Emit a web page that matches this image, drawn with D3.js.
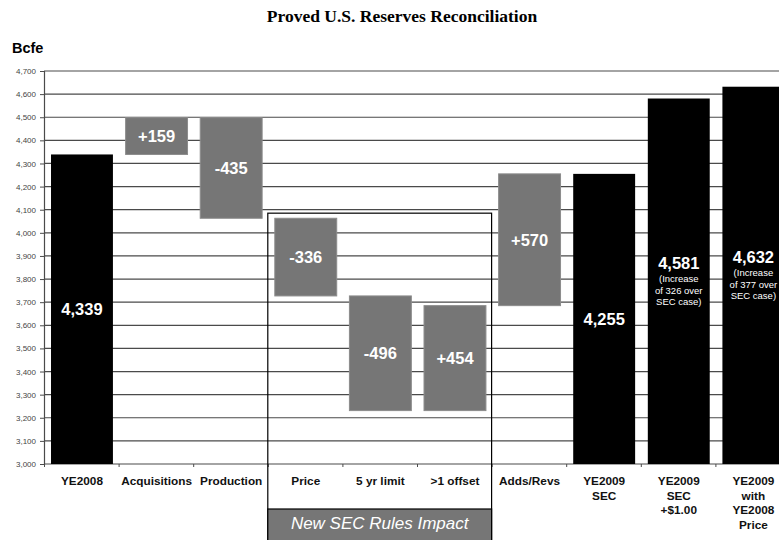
<!DOCTYPE html>
<html>
<head>
<meta charset="utf-8">
<script src="https://cdn.jsdelivr.net/npm/d3@7"></script>
<style>
  body { margin: 0; background: #fff; }
  svg { display: block; font-family: "Liberation Sans", Arial, sans-serif; }
</style>
</head>
<body>
<div id="canvas"></div>
<script>
// chart data
const categories = ["YE2008", "Acquisitions", "Production", "Price", "5 yr limit",
  ">1 offset", "Adds/Revs", "YE2009 SEC", "YE2009 SEC +$1.00", "YE2009 with YE2008 Price"];
const categoryLines = [["YE2008"], ["Acquisitions"], ["Production"], ["Price"], ["5 yr limit"],
  [">1 offset"], ["Adds/Revs"], ["YE2009", "SEC"], ["YE2009", "SEC", "+$1.00"], ["YE2009", "with", "YE2008", "Price"]];
const barKinds = ["total", "delta", "delta", "delta", "delta", "delta", "delta", "total", "total", "total"];
const barValues = [4339, 159, -435, -336, -496, 454, 570, 4255, 4581, 4632];
const barNotes = [null, null, null, null, null, null, null, null,
  ["(Increase", "of 326 over", "SEC case)"], ["(Increase", "of 377 over", "SEC case)"]];
const yTicks = [3000, 3100, 3200, 3300, 3400, 3500, 3600, 3700, 3800, 3900,
  4000, 4100, 4200, 4300, 4400, 4500, 4600, 4700];
const secGroup = ["Price", "5 yr limit", ">1 offset"];
const secGroupTop = 4085;

const W = 779, H = 540;
const plotLeft = 44, plotTop = 71, plotBottom = 464;

// waterfall start/end from running total
let running = 0;
const bars = categories.map((c, i) => {
  let start, end;
  if (barKinds[i] == "total") {
    start = yTicks[0];
    end = barValues[i];
    running = barValues[i];
  } else {
    start = running;
    end = running + barValues[i];
    running = end;
  }
  return { cat: c, kind: barKinds[i], value: barValues[i], start, end, note: barNotes[i], lines: categoryLines[i] };
});

const svg = d3.select("#canvas").append("svg").attr("width", W).attr("height", H);

const step = 74.6;
const x = d3.scaleBand().domain(categories)
  .range([plotLeft, plotLeft + step * (categories.length - 0.17 + 2 * 0.094)])
  .paddingInner(0.17).paddingOuter(0.094);
const y = d3.scaleLinear().domain([3000, 4700]).range([plotBottom, plotTop]);
// band boundaries
const bx = d3.scaleLinear().domain([0, categories.length]).range([plotLeft, plotLeft + x.step() * categories.length]);

// title
svg.append("text")
  .attr("x", 402).attr("y", 22)
  .attr("text-anchor", "middle")
  .style("font-family", "'Liberation Serif', 'Times New Roman', serif")
  .style("font-weight", "bold").style("font-size", "17.5px")
  .text("Proved U.S. Reserves Reconciliation");

svg.append("text")
  .attr("x", 12).attr("y", 53)
  .style("font-weight", "bold").style("font-size", "14.5px")
  .text("Bcfe");

// grid
svg.append("g")
  .selectAll("line")
  .data(yTicks.slice(1))
  .join("line")
  .attr("x1", plotLeft).attr("x2", W)
  .attr("y1", (d) => y(d)).attr("y2", (d) => y(d))
  .attr("stroke", "#4a4a4a").attr("stroke-width", 1.2);

// y axis
const yAxis = svg.append("g")
  .attr("transform", "translate(" + plotLeft + ",0)")
  .call(d3.axisLeft(y).tickValues(yTicks).tickSize(4).tickPadding(4).tickFormat(d3.format(",")));
yAxis.select(".domain").attr("stroke", "#4a4a4a").attr("stroke-width", 1.2);
yAxis.selectAll(".tick line").attr("stroke", "#4a4a4a");
yAxis.selectAll("text").style("font-size", "8px").attr("fill", "#444").style("font-family", "'Liberation Sans Narrow', 'Liberation Sans', Arial, sans-serif");

// x axis line and boundary ticks
const xAxis = svg.append("g")
  .attr("transform", "translate(0," + plotBottom + ")")
  .call(d3.axisBottom(bx).tickValues(d3.range(0, categories.length + 1)).tickSize(3).tickFormat(""));
xAxis.select(".domain").attr("stroke", "#4a4a4a").attr("stroke-width", 1.2).attr("d", "M" + plotLeft + ",0H" + W);
xAxis.selectAll(".tick line").attr("stroke", "#4a4a4a");

// category labels
svg.append("g")
  .selectAll("text")
  .data(bars)
  .join("text")
  .attr("x", (d) => x(d.cat) + x.bandwidth() / 2)
  .attr("y", 485)
  .attr("text-anchor", "middle")
  .style("font-weight", "bold").style("font-size", "11.8px")
  .attr("fill", "#111")
  .selectAll("tspan")
  .data((d) => d.lines.map((l) => ({ l, cx: x(d.cat) + x.bandwidth() / 2 })))
  .join("tspan")
  .attr("x", (d) => d.cx)
  .attr("dy", (d, i) => (i == 0 ? 0 : 14.7))
  .text((d) => d.l);

// bars
svg.append("g")
  .selectAll("rect")
  .data(bars)
  .join("rect")
  .attr("x", (d) => x(d.cat))
  .attr("width", x.bandwidth())
  .attr("y", (d) => y(Math.max(d.start, d.end)))
  .attr("height", (d) => Math.abs(y(d.start) - y(d.end)))
  .attr("fill", (d) => (d.kind == "total" ? "#000" : "#767676"))
  .attr("stroke", (d) => (d.kind == "total" ? "none" : "#8c8c8c"))
  .attr("stroke-width", 1);

// bar labels
const fmt = d3.format(",");
const labels = svg.append("g").selectAll("g").data(bars).join("g")
  .attr("transform", (d) => "translate(" + (x(d.cat) + x.bandwidth() / 2) + "," + (y(d.start) + y(d.end)) / 2 + ")");

labels.append("text")
  .attr("text-anchor", "middle")
  .attr("y", (d) => (d.note ? -12 : 6))
  .attr("fill", "#fff")
  .style("font-weight", "bold").style("font-size", "16.5px")
  .text((d) => (d.kind == "total" ? fmt(d.value) : (d.value > 0 ? "+" : "") + d.value));

labels.filter((d) => d.note)
  .append("text")
  .attr("text-anchor", "middle")
  .attr("fill", "#fff")
  .style("font-size", "9.5px")
  .style("font-family", "'Liberation Sans Narrow', 'Liberation Sans', Arial, sans-serif")
  .selectAll("tspan")
  .data((d) => d.note)
  .join("tspan")
  .attr("x", 0)
  .attr("y", (d, i) => 1 + i * 11.5)
  .text((d) => d);

// New SEC rules box
const gx0 = bx(categories.indexOf(secGroup[0]));
const gx1 = bx(categories.indexOf(secGroup[secGroup.length - 1]) + 1);
svg.append("rect")
  .attr("x", gx0).attr("y", y(secGroupTop))
  .attr("width", gx1 - gx0).attr("height", H + 5 - y(secGroupTop))
  .attr("fill", "none").attr("stroke", "#000").attr("stroke-width", 1.2);
svg.append("rect")
  .attr("x", gx0).attr("y", 509)
  .attr("width", gx1 - gx0).attr("height", 40)
  .attr("fill", "#767676").attr("stroke", "#000").attr("stroke-width", 1.2);
svg.append("text")
  .attr("x", (gx0 + gx1) / 2).attr("y", 529)
  .attr("text-anchor", "middle")
  .attr("fill", "#fff")
  .style("font-style", "italic").style("font-size", "17px")
  .text("New SEC Rules Impact");
</script>
</body>
</html>
